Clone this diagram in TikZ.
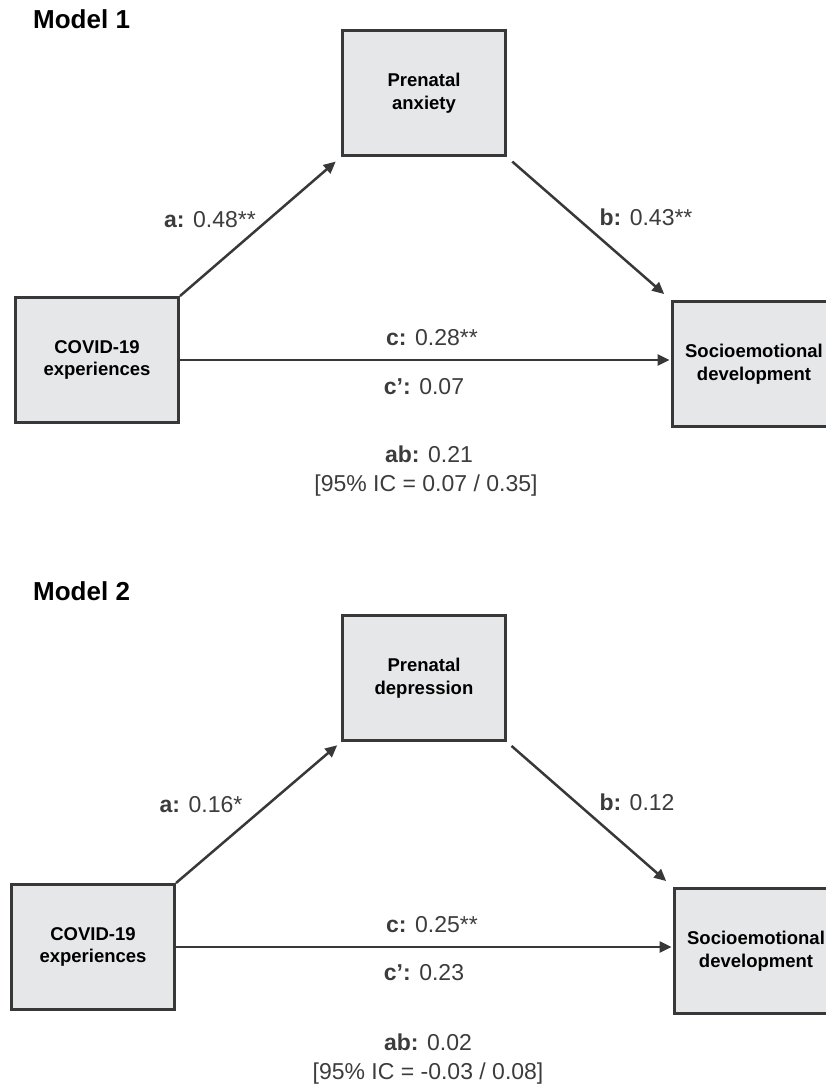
\documentclass[tikz,border=0pt]{standalone}
\usepackage{fontspec}
\setmainfont{Liberation Sans}
\usetikzlibrary{arrows.meta}
\definecolor{boxfill}{HTML}{E6E7E8}
\definecolor{edgecol}{HTML}{383838}
\definecolor{labtxt}{HTML}{3C3C3C}
\begin{document}
\begin{tikzpicture}[x=1pt,y=-1pt,
  varbox/.style={draw=edgecol, line width=3pt, fill=boxfill, minimum width=163pt, minimum height=125pt,
    align=center, font=\fontsize{18.5}{22.5}\selectfont\bfseries, text=black, inner sep=0pt},
  conn/.style={draw=edgecol, line width=2.5pt, -{Triangle[length=12pt,width=11pt]}},
  lab/.style={anchor=base, text=labtxt, font=\fontsize{23}{27}\selectfont, inner sep=0pt},
  ttl/.style={anchor=base west, font=\fontsize{26}{30}\selectfont\bfseries, inner sep=0pt, text=black}]
\useasboundingbox (0,0) rectangle (826,1086);
\clip (0,0) rectangle (826,1086);

% ---------------- Model 1 ----------------
\node[ttl] (t1) at (33,29) {Model 1};
\node[varbox] (cov1) at (97,360) {COVID-19\\experiences};
\node[varbox] (pre1) at (424,93) {Prenatal\\anxiety};
\node[varbox] (soc1) at (754,364) {Socioemotional\\development};

\draw[conn, shorten >=7pt] (cov1.north east) -- (pre1.south west);
\draw[conn, shorten <=7pt, shorten >=9pt] (pre1.south east) -- (soc1.north west);
\draw[conn, shorten >=1.5pt] (cov1.east) -- (cov1.east -| soc1.west);

\node[lab] (a1) at (210,227) {\textbf{a:} 0.48**};
\node[lab] (b1) at (646,225) {\textbf{b:} 0.43**};
\node[lab] (c1) at (432,345) {\textbf{c:} 0.28**};
\node[lab] (cp1) at (424,394) {\textbf{c’:} 0.07};
\node[lab] (ab1) at (429,462) {\textbf{ab:} 0.21};
\node[lab] (ci1) at (426,491) {[95\% IC = 0.07 / 0.35]};

% ---------------- Model 2 ----------------
\node[ttl] (t2) at (33,600) {Model 2};
\node[varbox] (cov2) at (93,947) {COVID-19\\experiences};
\node[varbox] (pre2) at (424,678) {Prenatal\\depression};
\node[varbox] (soc2) at (756,951) {Socioemotional\\development};

\draw[conn, shorten >=5pt] (cov2.north east) -- (pre2.south west);
\draw[conn, shorten <=6pt, shorten >=9pt] (pre2.south east) -- (soc2.north west);
\draw[conn, shorten >=1.5pt] (cov2.east) -- (cov2.east -| soc2.west);

\node[lab] (a2) at (201,812) {\textbf{a:} 0.16*};
\node[lab] (b2) at (637,810) {\textbf{b:} 0.12};
\node[lab] (c2) at (432,932) {\textbf{c:} 0.25**};
\node[lab] (cp2) at (424,980) {\textbf{c’:} 0.23};
\node[lab] (ab2) at (428,1050) {\textbf{ab:} 0.02};
\node[lab] (ci2) at (428,1079) {[95\% IC = -0.03 / 0.08]};
\end{tikzpicture}
\end{document}
